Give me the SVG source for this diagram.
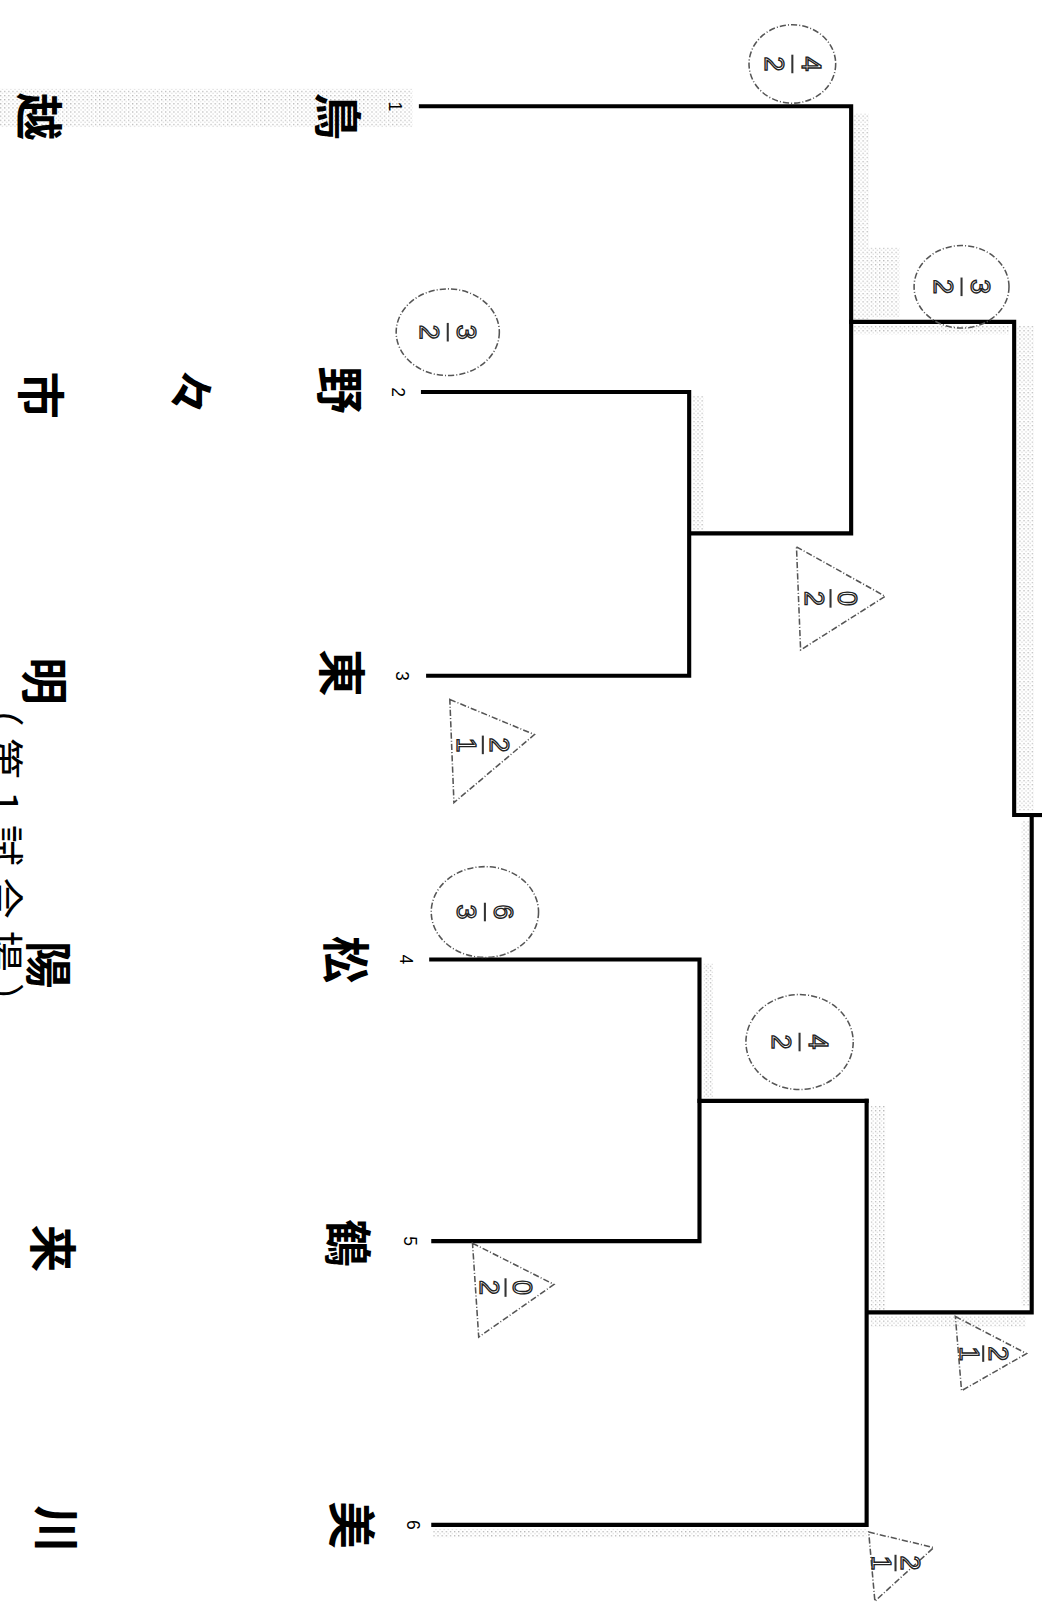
<svg xmlns="http://www.w3.org/2000/svg" width="1042" height="1618" viewBox="0 0 1042 1618">
<defs>
<pattern id="stip" width="4" height="4" patternUnits="userSpaceOnUse">
<rect x="0" y="0" width="1.2" height="1.2" fill="#777"/>
<rect x="2" y="2" width="1" height="1" fill="#999"/>
</pattern>
<style>
.ln{stroke:#000;stroke-width:4;fill:none;stroke-linecap:square}
.nm{font-family:"Noto Sans CJK JP","Noto Sans CJK SC",sans-serif;font-size:46px;font-weight:700;fill:#000;text-anchor:middle;dominant-baseline:central}
.cap{font-family:"Noto Sans CJK JP","Noto Sans CJK SC",sans-serif;font-size:40px;fill:#000;text-anchor:middle;dominant-baseline:central;letter-spacing:11px}
.no{font-family:"Liberation Sans",Arial,sans-serif;font-size:17px;fill:#000;text-anchor:middle;dominant-baseline:central}
.hw{font-family:"Liberation Sans",Arial,sans-serif;font-size:26px;fill:#fff;stroke:#222;stroke-width:1.3;text-anchor:middle;dominant-baseline:central}
.mk{fill:none;stroke:#555;stroke-width:1.5;stroke-dasharray:6 2 1 2}
.bar{stroke:#333;stroke-width:2}
.sh{fill:url(#stip);opacity:0.55}
</style>
</defs>
<rect width="1042" height="1618" fill="#fff"/>
<g transform="scale(1.0317)">
<g id="shading">
<rect class="sh" x="0" y="86" width="400" height="38"/>
<rect class="sh" x="828" y="110" width="14" height="200"/>
<rect class="sh" x="842" y="240" width="30" height="68"/>
<rect class="sh" x="672" y="384" width="10" height="130"/>
<rect class="sh" x="828" y="316" width="150" height="8"/>
<rect class="sh" x="986" y="316" width="16" height="470"/>
<rect class="sh" x="682" y="934" width="10" height="130"/>
<rect class="sh" x="844" y="1072" width="14" height="198"/>
<rect class="sh" x="844" y="1276" width="150" height="10"/>
<rect class="sh" x="990" y="796" width="12" height="470"/>
<rect class="sh" x="420" y="1482" width="420" height="8"/>
</g>
<g id="connectors">
<polyline class="ln" points="408,103 825,103 825,517 670,517"/>
<polyline class="ln" points="410,380 668,380 668,655 415,655"/>
<polyline class="ln" points="825,312 983,312 983,790 1000,790"/>
<polyline class="ln" points="1000,790 1000,1272 842,1272"/>
<line class="ln" x1="1000" y1="790" x2="1008" y2="790"/>
<polyline class="ln" points="418,930 678,930 678,1203 420,1203"/>
<line class="ln" x1="678" y1="1067" x2="840" y2="1067"/>
<polyline class="ln" points="840,1067 840,1478 420,1478"/>
</g>
<g id="node-1">
<text class="no" transform="translate(383,103) rotate(90)">1</text>
<text class="nm" transform="translate(330,113) rotate(90)">鳥</text>
<text class="nm" transform="translate(40,113) rotate(90)">越</text>
</g>
<g id="node-2">
<text class="no" transform="translate(386,380) rotate(90)">2</text>
<text class="nm" transform="translate(332,378) rotate(90)">野</text>
<text class="nm" transform="translate(188,380) rotate(90)">々</text>
<text class="nm" transform="translate(42,383) rotate(90)">市</text>
</g>
<g id="node-3">
<text class="no" transform="translate(390,655) rotate(90)">3</text>
<text class="nm" transform="translate(334,652) rotate(90)">東</text>
<text class="nm" transform="translate(46,660) rotate(90)">明</text>
</g>
<g id="node-4">
<text class="no" transform="translate(394,930) rotate(90)">4</text>
<text class="nm" transform="translate(338,930) rotate(90)">松</text>
<text class="nm" transform="translate(50,935) rotate(90)">陽</text>
</g>
<g id="node-5">
<text class="no" transform="translate(397,1203) rotate(90)">5</text>
<text class="nm" transform="translate(340,1205) rotate(90)">鶴</text>
<text class="nm" transform="translate(54,1210) rotate(90)">来</text>
</g>
<g id="node-6">
<text class="no" transform="translate(400,1478) rotate(90)">6</text>
<text class="nm" transform="translate(344,1478) rotate(90)">美</text>
<text class="nm" transform="translate(58,1482) rotate(90)">川</text>
</g>
<g id="caption">
<text class="cap" transform="translate(6,834) rotate(90)">（第1試合場）</text>
</g>
<g id="scores">
<g transform="translate(768,62)">
<ellipse class="mk" rx="42" ry="38"/>
<g transform="rotate(90)"><text class="hw" y="-18">4</text><line class="bar" x1="-9" y1="0" x2="9" y2="0"/><text class="hw" y="18">2</text></g>
</g>
<g transform="translate(932,278)">
<ellipse class="mk" rx="46" ry="40"/>
<g transform="rotate(90)"><text class="hw" y="-18">3</text><line class="bar" x1="-9" y1="0" x2="9" y2="0"/><text class="hw" y="18">2</text></g>
</g>
<g transform="translate(434,322)">
<ellipse class="mk" rx="50" ry="42"/>
<g transform="rotate(90)"><text class="hw" y="-18">3</text><line class="bar" x1="-9" y1="0" x2="9" y2="0"/><text class="hw" y="18">2</text></g>
</g>
<g transform="translate(470,884)">
<ellipse class="mk" rx="52" ry="44"/>
<g transform="rotate(90)"><text class="hw" y="-18">6</text><line class="bar" x1="-9" y1="0" x2="9" y2="0"/><text class="hw" y="18">3</text></g>
</g>
<g transform="translate(775,1010)">
<ellipse class="mk" rx="52" ry="46"/>
<g transform="rotate(90)"><text class="hw" y="-18">4</text><line class="bar" x1="-9" y1="0" x2="9" y2="0"/><text class="hw" y="18">2</text></g>
</g>
<g>
<polygon class="mk" points="772,530 858,578 776,630"/>
<g transform="translate(805,580) rotate(90)"><text class="hw" y="-16">0</text><line class="bar" x1="-9" y1="0" x2="9" y2="0"/><text class="hw" y="16">2</text></g>
</g>
<g>
<polygon class="mk" points="436,678 518,712 440,778"/>
<g transform="translate(468,722) rotate(90)"><text class="hw" y="-16">2</text><line class="bar" x1="-9" y1="0" x2="9" y2="0"/><text class="hw" y="16">1</text></g>
</g>
<g>
<polygon class="mk" points="458,1205 537,1245 464,1296"/>
<g transform="translate(490,1248) rotate(90)"><text class="hw" y="-16">0</text><line class="bar" x1="-9" y1="0" x2="9" y2="0"/><text class="hw" y="16">2</text></g>
</g>
<g>
<polygon class="mk" points="926,1276 995,1312 932,1348"/>
<g transform="translate(953,1312) rotate(90)"><text class="hw" y="-14">2</text><line class="bar" x1="-8" y1="0" x2="8" y2="0"/><text class="hw" y="14">1</text></g>
</g>
<g>
<polygon class="mk" points="842,1485 905,1500 848,1552"/>
<g transform="translate(868,1515) rotate(90)"><text class="hw" y="-14">2</text><line class="bar" x1="-8" y1="0" x2="8" y2="0"/><text class="hw" y="14">1</text></g>
</g>
</g>
</g>
</svg>
